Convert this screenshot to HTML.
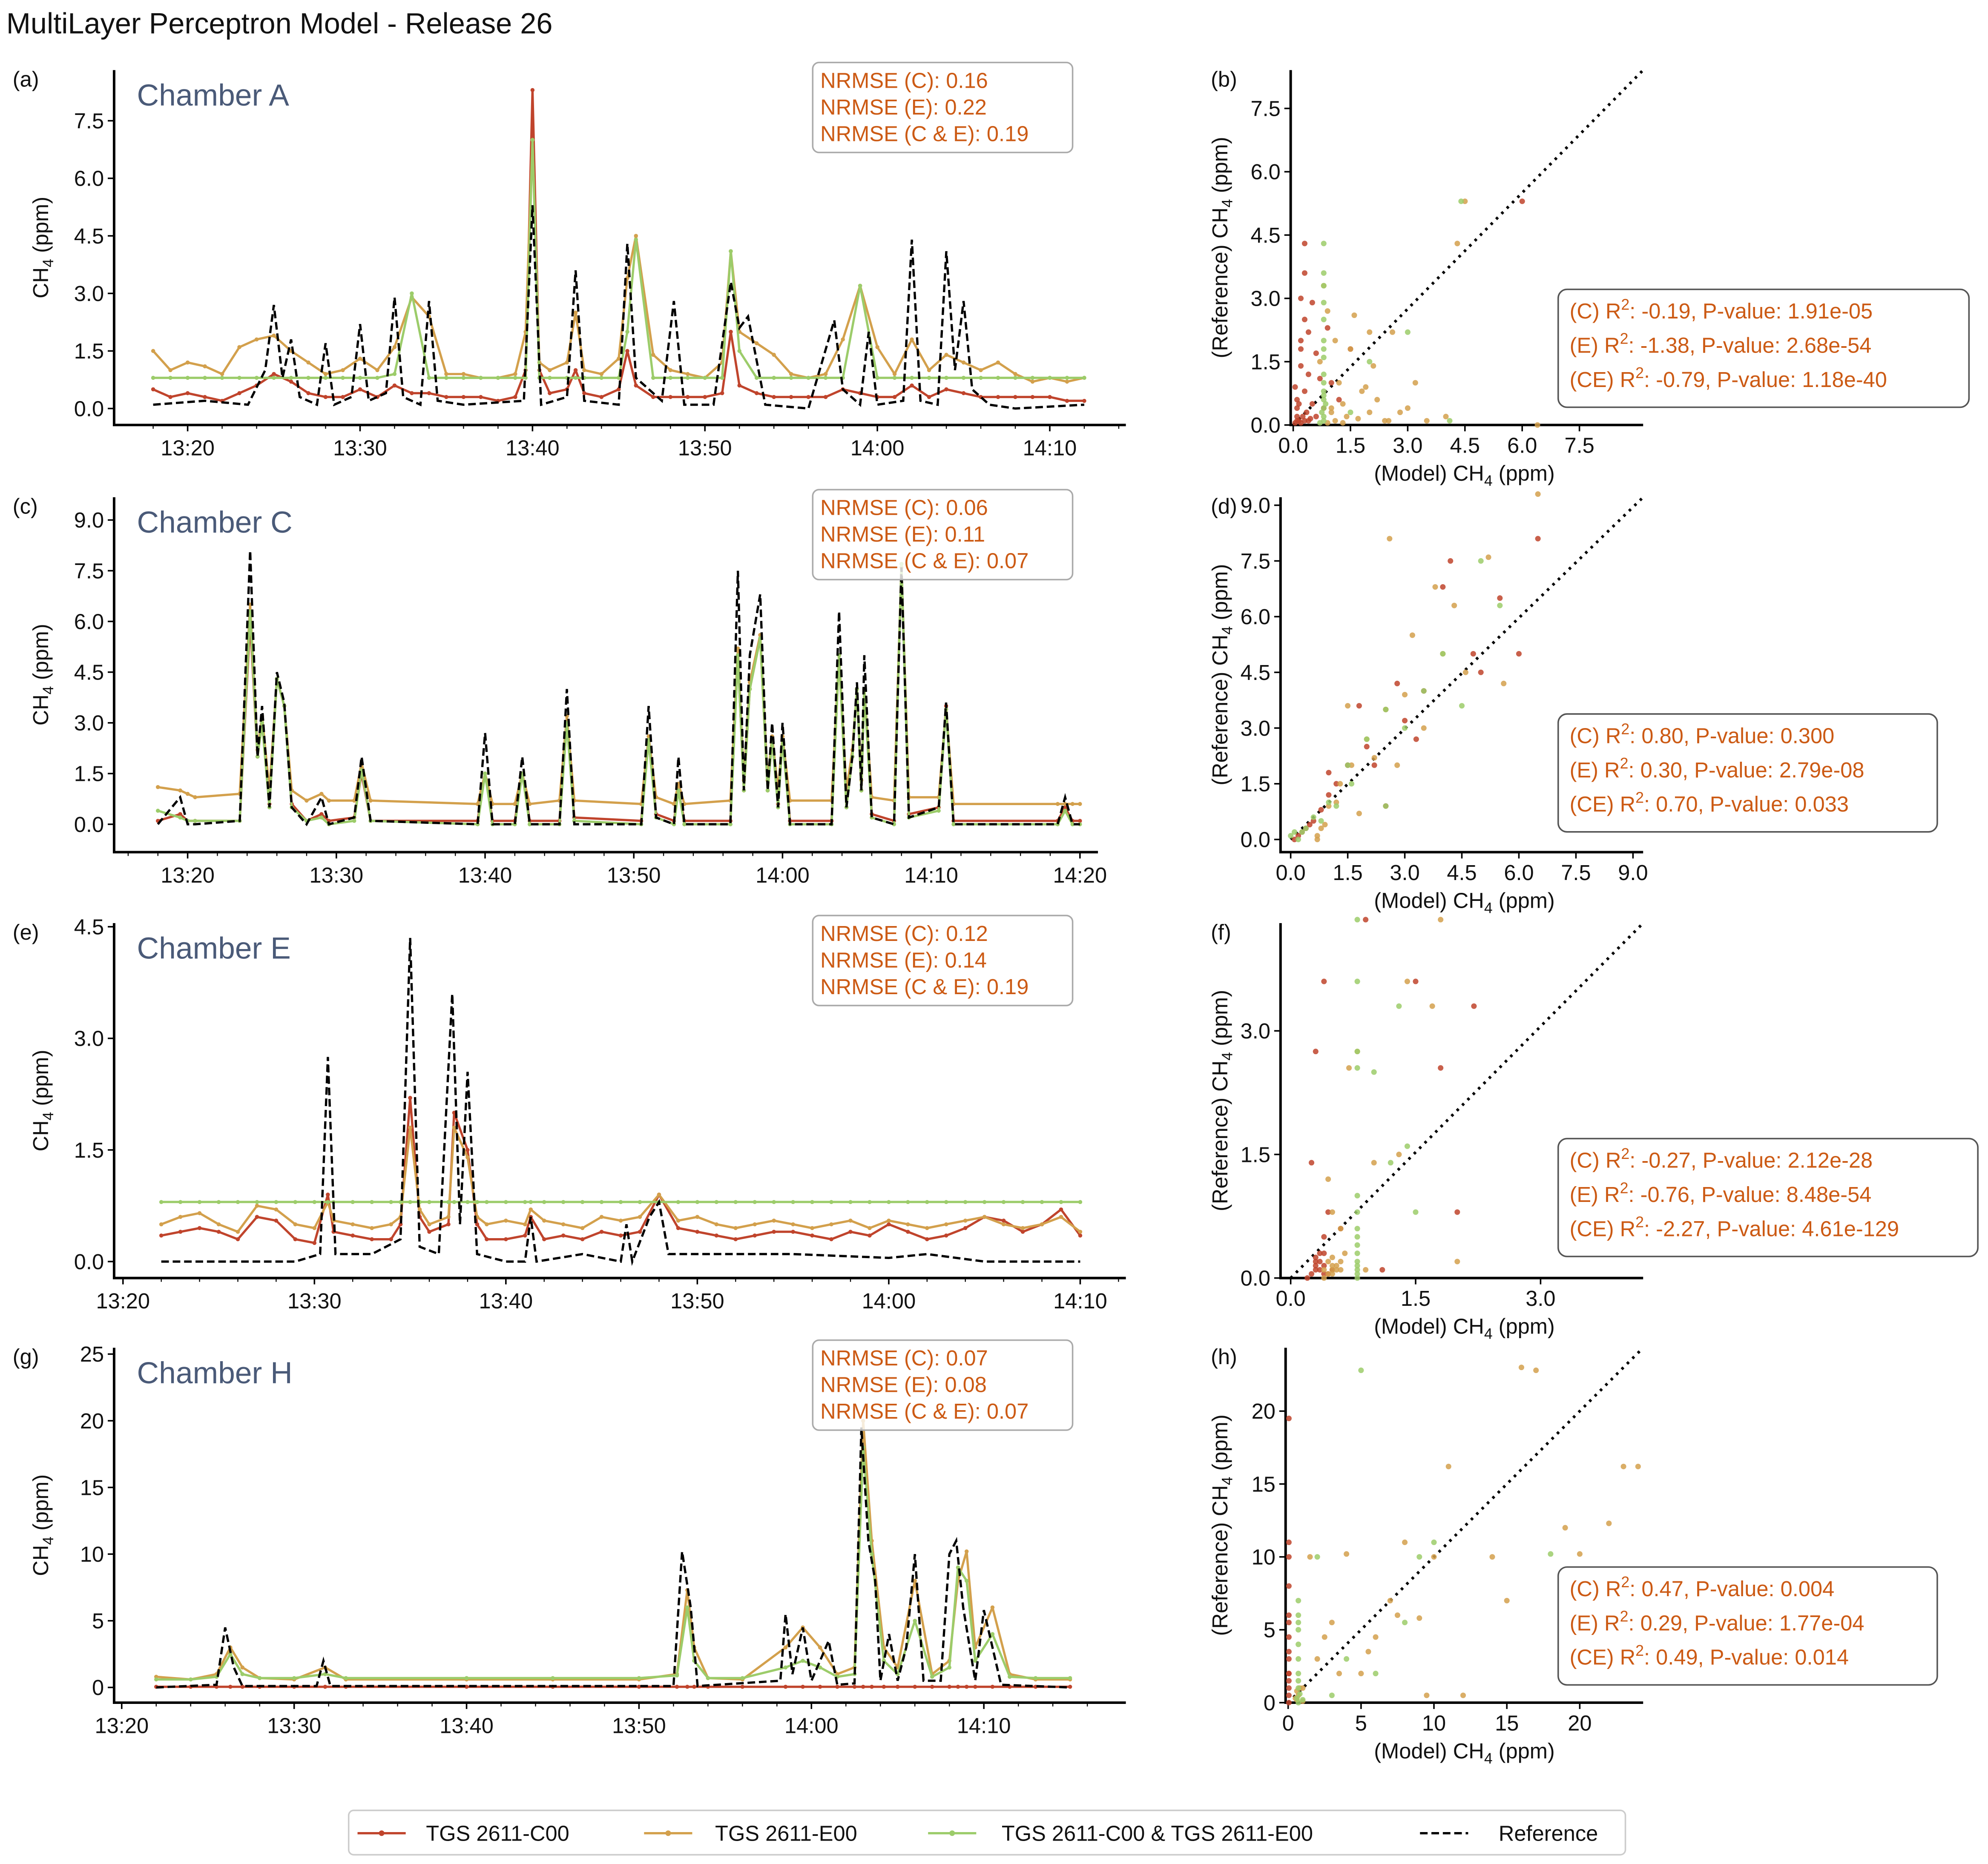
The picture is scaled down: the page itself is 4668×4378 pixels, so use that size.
<!DOCTYPE html>
<html><head><meta charset="utf-8"><style>
html,body{margin:0;padding:0;background:#fff}
svg{display:block}
text{font-family:"Liberation Sans","DejaVu Sans",sans-serif}
</style></head><body>
<svg id="fig" xmlns="http://www.w3.org/2000/svg" width="4668" height="4378" viewBox="0 0 1568 1470">
<rect width="1568" height="1470" fill="#fff"/>
<text x="5" y="26" font-size="23" fill="#111">MultiLayer Perceptron Model - Release 26</text>
</svg>
<script>
// ---------- DATA ----------
const timesA = [18,19,20,21,22,23,24,25,26,27,28,29,30,31,32,33,34,35,36,37,38,39,39.6,40,40.4,41,42,42.5,43,44,45,45.5,46,47,48,49,50,51,51.5,52,53,54,55,56,57,58,59,60,61,62,63,64,65,66,67,68,69,70,71,72];
const cValsA = [0.5,0.3,0.4,0.3,0.2,0.4,0.6,0.9,0.7,0.4,0.3,0.3,0.5,0.3,0.6,0.4,0.4,0.3,0.3,0.3,0.2,0.3,1.0,8.3,1.0,0.4,0.5,1.0,0.4,0.3,0.5,1.5,0.6,0.3,0.3,0.3,0.3,0.4,2.0,0.6,0.4,0.3,0.3,0.3,0.3,0.5,0.4,0.3,0.3,0.6,0.3,0.5,0.4,0.3,0.3,0.3,0.3,0.3,0.2,0.2];
const eValsA = [1.5,1.0,1.2,1.1,0.9,1.6,1.8,1.9,1.5,1.2,0.9,1.0,1.3,1.0,1.6,2.9,2.4,0.9,0.9,0.8,0.8,0.9,2.0,7.0,1.2,1.0,1.2,2.5,1.0,0.9,1.3,3.4,4.5,1.4,1.0,0.9,0.8,1.2,4.1,2.0,1.7,1.4,0.9,0.8,0.9,1.8,3.2,1.6,0.9,1.8,1.0,1.4,1.2,1.0,1.2,0.9,0.7,0.8,0.7,0.8];
const gValsA = [0.8,0.8,0.8,0.8,0.8,0.8,0.8,0.8,0.8,0.8,0.8,0.8,0.8,0.8,0.9,3.0,0.8,0.8,0.8,0.8,0.8,0.8,0.8,7.0,0.8,0.8,0.8,0.8,0.8,0.8,0.8,2.0,4.4,0.8,0.8,0.8,0.8,0.8,4.1,1.5,0.8,0.8,0.8,0.8,0.8,0.8,3.2,0.8,0.8,0.8,0.8,0.8,0.8,0.8,0.8,0.8,0.8,0.8,0.8,0.8];
const refTimesA = [18,21,23.5,24.5,25,25.5,26,26.5,27.5,28,28.5,29.5,30,30.5,31.5,32,32.5,33.5,34,34.5,36,39.5,40,40.5,42,42.5,43,45,45.5,46,47.5,48.2,48.8,50.5,51.5,52,52.5,53.5,56,57.5,58,59,59.5,60,61.5,62,62.5,63.5,64,64.5,65,65.5,66.5,68,72];
const refValsA = [0.1,0.2,0.1,1.0,2.7,0.8,1.8,0.3,0.1,1.7,0.1,0.3,2.2,0.2,0.4,2.9,0.3,0.1,2.8,0.2,0.1,0.2,5.3,0.1,0.3,3.6,0.2,0.1,4.3,0.8,0.2,2.8,0.1,0.1,3.3,2.1,2.4,0.1,0.0,2.3,0.5,0.1,2.0,0.1,0.2,4.4,0.2,0.1,4.1,1.0,2.8,0.5,0.1,0.0,0.1];

const timesC = [18,19.5,20,20.5,23.5,24.2,24.7,25,25.5,26,26.5,27,28,29,29.5,31.2,31.7,32.3,39.5,40,40.5,42,42.5,43,45,45.5,46,50.5,51,51.5,52.7,53,53.4,56.5,57,57.4,57.8,58.5,59,59.3,59.7,60,60.5,63.3,63.8,64.3,64.7,65,65.3,65.5,66,67.5,68,68.5,70.5,71,71.5,78.5,79,79.5,80];
const refValsC = [0,0.8,0,0,0.1,8.1,2,3.5,0.5,4.5,3.6,0.5,0,0.8,0,0.2,2.0,0.1,0,2.7,0,0,2.0,0,0,4.0,0,0,3.5,0.2,0,2.0,0,0,7.5,1.0,5.0,6.8,1.0,3.0,0.5,3.0,0,0,6.3,0.5,2.0,4.2,1.0,5.0,0.2,0,7.6,0.2,0.5,3.6,0,0,0.8,0,0];
const cValsC = [0.1,0.3,0.1,0.1,0.1,6.0,2,3.0,0.6,4.3,3.5,0.6,0.1,0.3,0.1,0.2,1.5,0.1,0.1,1.5,0.1,0.1,1.5,0.1,0.1,3.0,0.2,0.1,2.5,0.3,0.1,1.0,0.1,0.1,5.0,1.0,4.0,5.5,1.0,2.5,0.6,2.5,0.1,0.1,5.0,0.5,2.0,4.0,1.0,4.0,0.3,0.1,7.7,0.3,0.5,3.5,0.1,0.1,0.5,0.1,0.1];
const eValsC = [1.1,1.0,0.9,0.8,0.9,6.5,2.2,3.2,1.0,4.3,3.5,1.0,0.7,0.9,0.7,0.7,1.8,0.7,0.6,1.5,0.6,0.6,1.5,0.6,0.7,3.2,0.7,0.6,2.6,0.8,0.6,1.2,0.6,0.7,5.2,1.3,4.2,5.6,1.3,2.6,1.0,2.6,0.7,0.7,5.0,1.0,2.2,4.0,1.3,4.0,0.8,0.7,7.6,0.8,0.8,3.4,0.6,0.6,0.6,0.6,0.6];
const gValsC = [0.4,0.2,0.1,0.1,0.1,6.3,2,3.0,0.5,4.3,3.5,0.5,0.1,0.2,0.0,0.1,1.6,0.1,0.0,1.5,0.0,0.0,1.5,0.0,0.0,3.0,0.1,0.0,2.5,0.2,0.0,1.0,0.0,0.0,5.0,1.0,4.0,5.5,1.0,2.5,0.5,2.5,0.0,0.0,5.0,0.5,2.0,4.0,1.0,4.0,0.2,0.0,7.7,0.2,0.4,3.4,0.0,0.0,0.4,0.0,0.0];

const timesE = [22,23,24,25,26,27,28,29,30,30.7,31,32,33,34,34.5,35,35.5,36,37,37.3,38,38.5,39,40,41,41.3,42,43,44,45,46,47,48,49,50,51,52,53,54,55,56,57,58,59,60,61,62,63,64,65,66,67,68,69,70];
const cValsE = [0.35,0.4,0.45,0.4,0.3,0.6,0.55,0.3,0.25,0.9,0.4,0.35,0.3,0.3,0.5,2.2,0.6,0.4,0.5,2.0,1.5,0.5,0.3,0.3,0.35,0.6,0.3,0.35,0.3,0.4,0.35,0.4,0.9,0.45,0.4,0.35,0.3,0.35,0.4,0.4,0.35,0.3,0.4,0.35,0.5,0.4,0.3,0.35,0.45,0.6,0.55,0.4,0.5,0.7,0.35];
const eValsE = [0.5,0.6,0.65,0.5,0.4,0.75,0.7,0.5,0.45,0.8,0.55,0.5,0.45,0.5,0.6,1.8,0.7,0.5,0.6,1.8,1.4,0.6,0.5,0.55,0.5,0.7,0.55,0.5,0.45,0.6,0.55,0.6,0.9,0.55,0.6,0.5,0.45,0.5,0.55,0.5,0.45,0.5,0.55,0.45,0.55,0.5,0.45,0.5,0.55,0.6,0.5,0.45,0.5,0.6,0.4];
const gValsE = [0.8,0.8,0.8,0.8,0.8,0.8,0.8,0.8,0.8,0.8,0.8,0.8,0.8,0.8,0.8,0.8,0.8,0.8,0.8,0.8,0.8,0.8,0.8,0.8,0.8,0.8,0.8,0.8,0.8,0.8,0.8,0.8,0.8,0.8,0.8,0.8,0.8,0.8,0.8,0.8,0.8,0.8,0.8,0.8,0.8,0.8,0.8,0.8,0.8,0.8,0.8,0.8,0.8,0.8,0.8];
const refTimesE = [22,29,30.3,30.7,31.1,33,34.5,35,35.5,36.5,37.2,37.6,38,38.5,40,41,41.3,41.6,44,46,46.3,46.6,47.5,48,48.5,50,55,60,62,65,70];
const refValsE = [0,0,0.1,2.75,0.1,0.1,0.3,4.35,0.2,0.1,3.6,0.5,2.55,0.1,0,0,0.6,0,0.1,0,0.5,0,0.6,0.8,0.1,0.1,0.1,0.05,0.1,0,0];

const timesH = [22,24,25.5,26.3,27,28,30,31.8,33,40,45,50,52.2,52.8,53.2,54,56,58.5,59.5,60.5,61.5,62.5,63,63.5,64.2,65,66,67,68,68.5,69,69.5,70.5,71.5,73,75];
const cValsH = [0.05,0.05,0.05,0.05,0.05,0.05,0.05,0.05,0.05,0.05,0.05,0.05,0.05,0.05,0.05,0.05,0.05,0.05,0.05,0.05,0.05,0.05,0.05,0.05,0.05,0.05,0.05,0.05,0.05,0.05,0.05,0.05,0.05,0.05,0.05,0.05];
const eValsH = [0.8,0.6,1.0,3.0,1.5,0.7,0.6,1.5,0.6,0.6,0.6,0.6,1.0,7.3,3.0,0.7,0.6,3.0,4.5,3.0,1.0,1.5,20,11,3,1.5,8,1.0,2.0,8,10.2,3,6,1.0,0.6,0.6];
const gValsH = [0.6,0.6,0.8,2.5,1.0,0.7,0.7,1.0,0.7,0.7,0.7,0.7,0.9,6.0,2.0,0.7,0.7,1.5,2.0,1.5,0.8,1.0,18,10,2,1.0,5,0.8,1.5,9,8,2,4,0.8,0.7,0.7];
const refTimesH = [22,25.5,26,26.5,27,31.3,31.7,32.1,52,52.5,53,53.4,58.2,58.5,58.9,59.5,60,60.5,61,61.5,62.5,62.9,63.3,63.7,64,64.5,65,65.5,66,66.5,67.5,68,68.4,68.8,69.5,70,70.5,71,75];
const refValsH = [0,0.2,4.5,1.5,0.1,0.1,2.0,0.1,0.1,10.2,6,0.1,0.5,5.5,1.0,4.5,0.5,2.0,3.5,0.2,0.3,19.5,11,8,0.5,4.0,0.5,3.0,10,0.5,0.5,10.0,11,6,0.5,5.8,3,0.2,0];

const timeTickLabels = ["13:20","13:30","13:40","13:50","14:00","14:10","14:20"];
const timeTickMinutes = [20,30,40,50,60,70,80];

// scatter data (model x, reference y)
const scBcx = [0.1,0.2,0.3,0.4,0.5,0.2,0.3,0.6,0.1,0.4,0.8,0.2,0.5,0.3,1.0,0.6,0.2,0.9,1.2,0.4,6.0,0.3,0.7,0.1,1.5,0.05,0.15,0.25,0.35,0.1,0.2,0.3,0.15,0.45,0.05];
const scBcy = [0.2,1.8,2.5,1.2,0.5,3.0,0.8,1.7,0.1,2.2,0.4,1.4,2.9,4.3,1.0,0.2,2.0,2.3,0.6,0.1,5.3,3.6,1.1,0.6,1.8,0.05,0.1,0.2,0.3,0.4,0.05,0.1,0.5,0.15,0.9];
const scBex = [1.0,1.5,2.0,2.5,3.0,0.9,1.2,1.8,2.2,3.5,4.5,4.3,1.6,2.8,0.8,3.2,2.1,1.3,4.0,2.6,6.4,1.1,0.7,1.9,2.4,0.9,1.1,1.4,1.7,2.0,1.0,1.3];
const scBey = [0.3,1.8,2.2,0.1,0.4,2.7,1.0,0.8,0.6,0.1,5.3,4.3,2.6,0.3,3.3,1.0,1.4,0.5,0.2,2.2,0.0,2.0,1.5,0.9,0.1,0.05,0.1,0.2,0.15,0.3,0.4,0.05];
const scBgx = [0.8,0.8,0.8,0.8,0.8,0.8,0.8,0.8,0.8,0.8,0.8,0.8,1.5,3.0,4.1,2.0,4.4,0.8,0.8,0.8,0.7,0.75,0.85,0.8];
const scBgy = [0.1,0.4,0.8,1.2,1.6,2.0,2.5,2.9,3.3,3.6,4.3,0.2,0.3,2.2,0.1,1.5,5.3,1.8,0.6,1.0,0.05,0.3,0.5,0.7];

const scDcx = [0.1,0.2,0.4,0.6,1.0,1.5,2.0,2.5,3.0,3.5,4.0,5.0,5.5,6.0,6.5,0.3,0.8,1.2,1.8,2.2,2.8,4.2,3.3,1.0,0.5,4.8,2.5];
const scDcy = [0.0,0.1,0.3,0.5,1.2,2.0,2.5,3.5,3.2,4.0,6.8,4.5,6.5,5.0,8.1,0.2,0.8,1.5,3.6,2.0,4.2,7.5,2.7,1.8,0.4,5.0,0.9];
const scDex = [0.7,0.8,1.0,1.3,1.6,2.0,2.5,3.0,3.5,4.0,4.3,5.2,5.6,6.5,2.6,3.2,1.5,1.8,2.2,0.9,3.8,1.2,4.6,2.8,0.7];
const scDey = [0.0,0.3,0.9,1.5,2.0,2.7,3.5,3.9,3.0,5.0,6.3,7.6,4.2,9.3,8.1,5.5,3.6,0.7,2.2,0.4,6.8,1.0,4.5,2.0,0.1];
const scDgx = [0.0,0.1,0.2,0.4,0.6,1.0,1.5,2.0,2.5,3.0,4.0,5.0,5.5,2.5,1.6,0.8,3.5,4.5,1.2,0.3];
const scDgy = [0.1,0.2,0.0,0.3,0.6,1.0,2.0,2.7,3.5,3.0,5.0,7.5,6.3,0.9,1.5,0.5,4.0,3.6,0.9,0.2];

const scFcx = [0.2,0.3,0.35,0.4,0.5,0.3,0.25,0.9,1.5,2.2,1.8,0.6,0.4,0.35,0.45,1.1,0.5,0.3,2.0,0.4,0.25,0.3,0.35,0.4,0.45,0.3,0.4];
const scFcy = [0.0,0.1,0.2,0.05,0.1,2.75,1.4,4.35,3.6,3.3,2.55,0.6,0.5,0.3,0.8,0.1,0.1,0.15,0.8,3.6,0.05,0.2,0.1,0.3,0.05,0.25,0.15];
const scFex = [0.4,0.5,0.6,0.45,0.55,0.8,1.8,1.4,1.7,0.7,0.6,0.5,1.3,2.0,0.9,1.0,0.65,0.5,0.45,0.5,0.55,0.6,0.45,0.5,0.4];
const scFey = [0.0,0.1,0.2,0.05,0.1,2.75,4.35,3.6,3.3,2.55,0.6,0.8,1.5,0.2,0.1,1.4,0.3,0.15,1.2,0.05,0.15,0.1,0.2,0.25,0.1];
const scFgx = [0.8,0.8,0.8,0.8,0.8,0.8,0.8,0.8,0.8,0.8,0.8,0.8,1.2,1.4,1.0,1.3,1.5,0.8,0.8,0.8];
const scFgy = [0.0,0.1,0.2,0.3,0.5,0.6,0.8,1.0,2.75,4.35,3.6,2.55,1.4,1.6,2.5,3.3,0.8,0.05,0.15,0.4];

const scHcx = [0.05,0.05,0.05,0.05,0.05,0.05,0.05,0.05,0.05,0.05,0.05,0.05,0.05,0.05,0.05];
const scHcy = [0,1,2,3,4.5,5.5,6,8,10,11,19.5,3.5,2,0.5,1.5];
const scHex = [0.6,1,2,3,4,5,6,7,8,9,10,11,12,14,15,16,17,19,20,22,23,24,1.5,2.5,3.5,5.5,7.5,9.5,0.5,0.7,0.8,1.0,0.6];
const scHey = [0.2,1,3,5.5,10.2,2,4.5,7,11,5.8,10,16.2,0.5,10,7,23,22.8,12,10.2,12.3,16.2,16.2,10,4.5,2,3.5,6,0.5,0.3,0.5,1.0,0.1,0.8];
const scHgx = [0.7,0.7,0.7,0.7,0.7,0.7,0.7,0.7,0.7,1.0,2.0,5.0,6.0,8.0,9.0,18,10,4,3,0.6,0.8,0.7];
const scHgy = [0,1,2,3,4,5,5.5,6,7,0.2,10,22.8,2,5.5,10,10.2,11,3,0.5,0.3,0.6,1.5];

// ---------- RENDER ----------
const svg = document.getElementById('fig');
const NS = 'http://www.w3.org/2000/svg';
function mk(tag, attrs, parent){
  const e = document.createElementNS(NS, tag);
  for (const k in attrs) e.setAttribute(k, attrs[k]);
  (parent||svg).appendChild(e);
  return e;
}
const RED='#c0442c', ORG='#d3a04c', GRN='#9ccc6a', ANN='#cc5a14';

function ch4Label(parent, x, y, pre, post, rot, fs){
  const t = mk('text', {x:x, y:y, 'font-size':fs, fill:'#111', 'text-anchor':'middle', transform: rot?`rotate(-90 ${x} ${y})`:''}, parent);
  t.appendChild(document.createTextNode(pre+'CH'));
  const s = mk('tspan', {'font-size':fs*0.7, dy:4}, t); s.textContent='4';
  const s2 = mk('tspan', {dy:-4}, t); s2.textContent=post;
  return t;
}

function timePanel(cfg){
  const g = mk('g', {});
  
  
  const tx = m => cfg.x0t + (m-20)*cfg.pxMin;
  const ty = v => cfg.y0 - v*cfg.pxUnit;
  const sp = mk('path', {d:`M${cfg.xl},${cfg.yt} V${cfg.yb} H${cfg.xr}`, stroke:'#000', 'stroke-width':2, fill:'none'}, g);
  
  
  cfg.yticks.forEach((v,i)=>{
    const y = ty(v);
    mk('line',{x1:cfg.xl-5,x2:cfg.xl,y1:y,y2:y,stroke:'#000','stroke-width':1.2},g);
    const t = mk('text',{x:cfg.xl-8,y:y+6,'font-size':17,'text-anchor':'end',fill:'#111'},g);
    t.textContent = cfg.ylabels[i];
    
    
  });
  timeTickMinutes.forEach((m,i)=>{
    if (m < cfg.tmin || m > cfg.tmax) return;
    const x = tx(m);
    mk('line',{x1:x,x2:x,y1:cfg.yb,y2:cfg.yb+5,stroke:'#000','stroke-width':1.2},g);
    const t = mk('text',{x:x,y:cfg.yb+24,'font-size':17,'text-anchor':'middle',fill:'#111'},g);
    t.textContent = timeTickLabels[i];
    
    
  });
  for (let m = Math.ceil(cfg.tmin/2)*2; m <= cfg.tmax; m+=2){
    if (m%10===0) continue;
    const x = tx(m);
    if (x > cfg.xr) continue;
    mk('line',{x1:x,x2:x,y1:cfg.yb,y2:cfg.yb+3,stroke:'#000','stroke-width':0.8},g);
  }
  const yl = ch4Label(g, 38, (cfg.yt+cfg.yb)/2, '', ' (ppm)', true, 17);
  
  
  const series = [[cfg.c, RED,'series-c00'],[cfg.e, ORG,'series-e00'],[cfg.g, GRN,'series-c00-e00']];
  series.forEach(([vals,col,nm])=>{
    const n = Math.min(vals.length, cfg.t.length);
    let d='';
    for (let i=0;i<n;i++) d += (i?'L':'M')+tx(cfg.t[i]).toFixed(1)+','+ty(vals[i]).toFixed(1);
    const p = mk('path',{d:d,stroke:col,'stroke-width':1.8,fill:'none','stroke-linejoin':'round'},g);
    
    
    for (let i=0;i<n;i++){
      const c = mk('circle',{cx:tx(cfg.t[i]),cy:ty(vals[i]),r:1.6,fill:col},g);
      
      
    }
  });
  const n = Math.min(cfg.rt.length, cfg.rv.length);
  let d='';
  for (let i=0;i<n;i++) d += (i?'L':'M')+tx(cfg.rt[i]).toFixed(1)+','+ty(cfg.rv[i]).toFixed(1);
  const rp = mk('path',{d:d,stroke:'#000','stroke-width':1.8,fill:'none','stroke-dasharray':'6,3'},g);
  
  
  const lt = mk('text',{x:10,y:cfg.yt+13,'font-size':17,fill:'#111'},g);
  lt.textContent = cfg.letter;
  
  
  const cl = mk('text',{x:108,y:cfg.yt+28,'font-size':24,fill:'#4a5a78'},g);
  cl.textContent = cfg.chamber;
  
  
  const bx = mk('rect',{x:641,y:cfg.yt-6,width:205,height:71,rx:5,fill:'#fff','fill-opacity':0.8,stroke:'#aaa','stroke-width':1.2},g);
  
  
  cfg.nrmse.forEach((s,i)=>{
    const t = mk('text',{x:647,y:cfg.yt+14+i*21,'font-size':17,fill:ANN},g);
    t.textContent = s;
    
    
  });
}

timePanel({name:'panel-a-chamber-a', letter:'(a)', chamber:'Chamber A', xl:90, xr:888, yt:55, yb:335,
  x0t:148, pxMin:13.6, y0:322, pxUnit:30.27, tmin:17, tmax:74,
  yticks:[0,1.5,3,4.5,6,7.5], ylabels:['0.0','1.5','3.0','4.5','6.0','7.5'],
  t:timesA, c:cValsA, e:eValsA, g:gValsA, rt:refTimesA, rv:refValsA,
  nrmse:['NRMSE (C): 0.16','NRMSE (E): 0.22','NRMSE (C & E): 0.19']});
timePanel({name:'panel-c-chamber-c', letter:'(c)', chamber:'Chamber C', xl:90, xr:866, yt:392, yb:672,
  x0t:148, pxMin:11.73, y0:650, pxUnit:26.67, tmin:16, tmax:82,
  yticks:[0,1.5,3,4.5,6,7.5,9], ylabels:['0.0','1.5','3.0','4.5','6.0','7.5','9.0'],
  t:timesC, c:cValsC, e:eValsC, g:gValsC, rt:timesC, rv:refValsC,
  nrmse:['NRMSE (C): 0.06','NRMSE (E): 0.11','NRMSE (C & E): 0.07']});
timePanel({name:'panel-e-chamber-e', letter:'(e)', chamber:'Chamber E', xl:90, xr:888, yt:728, yb:1008,
  x0t:97, pxMin:15.1, y0:995, pxUnit:58.7, tmin:20, tmax:72,
  yticks:[0,1.5,3,4.5], ylabels:['0.0','1.5','3.0','4.5'],
  t:timesE, c:cValsE, e:eValsE, g:gValsE, rt:refTimesE, rv:refValsE,
  nrmse:['NRMSE (C): 0.12','NRMSE (E): 0.14','NRMSE (C & E): 0.19']});
timePanel({name:'panel-g-chamber-h', letter:'(g)', chamber:'Chamber H', xl:90, xr:888, yt:1063, yb:1343,
  x0t:96, pxMin:13.6, y0:1331, pxUnit:10.52, tmin:20, tmax:76,
  yticks:[0,5,10,15,20,25], ylabels:['0','5','10','15','20','25'],
  t:timesH, c:cValsH, e:eValsH, g:gValsH, rt:refTimesH, rv:refValsH,
  nrmse:['NRMSE (C): 0.07','NRMSE (E): 0.08','NRMSE (C & E): 0.07']});

function scatterPanel(cfg){
  const g = mk('g', {});
  
  
  const sx = v => cfg.x0 + v*cfg.kx;
  const sy = v => cfg.y0 - v*cfg.ky;
  const sp = mk('path', {d:`M${cfg.xl},${cfg.yt} V${cfg.yb} H1296`, stroke:'#000', 'stroke-width':2, fill:'none'}, g);
  
  
  cfg.ticks.forEach((v,i)=>{
    const x = sx(v), y = sy(v);
    if (x <= 1297){
      mk('line',{x1:x,x2:x,y1:cfg.yb,y2:cfg.yb+5,stroke:'#000','stroke-width':1.2},g);
      const t = mk('text',{x:x,y:cfg.yb+22,'font-size':17,'text-anchor':'middle',fill:'#111'},g);
      t.textContent = cfg.labels[i];
      
      
    }
    if (y >= cfg.yt-1){
      mk('line',{x1:cfg.xl-5,x2:cfg.xl,y1:y,y2:y,stroke:'#000','stroke-width':1.2},g);
      const t = mk('text',{x:cfg.xl-8,y:y+6,'font-size':17,'text-anchor':'end',fill:'#111'},g);
      t.textContent = cfg.labels[i];
      
      
    }
  });
  const dl = mk('line',{x1:sx(0),y1:sy(0),x2:1296,y2:cfg.yt,stroke:'#000','stroke-width':2.2,'stroke-dasharray':'2,4'},g);
  
  
  [[cfg.cx,cfg.cy,RED,'scatter-c00'],[cfg.ex,cfg.ey,ORG,'scatter-e00'],[cfg.gx,cfg.gy,GRN,'scatter-c00-e00']].forEach(([xs,ys,col,nm])=>{
    const n = Math.min(xs.length, ys.length);
    for (let i=0;i<n;i++){
      const c = mk('circle',{cx:sx(xs[i]),cy:sy(ys[i]),r:2.2,fill:col,'fill-opacity':0.85},g);
      
      
    }
  });
  const lt = mk('text',{x:955,y:cfg.yt+13,'font-size':17,fill:'#111'},g);
  lt.textContent = cfg.letter;
  
  
  const yl = ch4Label(g, 968, (cfg.yt+cfg.yb)/2, '(Reference) ', ' (ppm)', true, 17);
  
  
  const xlb = ch4Label(g, 1155, cfg.yb+44, '(Model) ', ' (ppm)', false, 17);
  
  
  const bx = mk('rect',{x:1229,y:cfg.by,width:cfg.bw,height:93,rx:7,fill:'#fff','fill-opacity':0.85,stroke:'#555','stroke-width':1.2},g);
  
  
  cfg.stats.forEach((s,i)=>{
    const t = mk('text',{x:1238,y:cfg.by+23+i*27,'font-size':17,fill:ANN},g);
    t.appendChild(document.createTextNode(s[0]+' R'));
    const sup = mk('tspan',{'font-size':12,dy:-7},t); sup.textContent='2';
    const rest = mk('tspan',{dy:7},t); rest.textContent=': '+s[1];
    
    
  });
}

scatterPanel({name:'panel-b-scatter-a', letter:'(b)', xl:1018, yt:55, yb:335, x0:1020, kx:30.1, y0:335, ky:33.3,
  ticks:[0,1.5,3,4.5,6,7.5], labels:['0.0','1.5','3.0','4.5','6.0','7.5'],
  cx:scBcx, cy:scBcy, ex:scBex, ey:scBey, gx:scBgx, gy:scBgy, by:228, bw:324,
  stats:[['(C)','-0.19, P-value: 1.91e-05'],['(E)','-1.38, P-value: 2.68e-54'],['(CE)','-0.79, P-value: 1.18e-40']]});
scatterPanel({name:'panel-d-scatter-c', letter:'(d)', xl:1010, yt:392, yb:672, x0:1018, kx:30, y0:662, ky:29.3,
  ticks:[0,1.5,3,4.5,6,7.5,9], labels:['0.0','1.5','3.0','4.5','6.0','7.5','9.0'],
  cx:scDcx, cy:scDcy, ex:scDex, ey:scDey, gx:scDgx, gy:scDgy, by:563, bw:299,
  stats:[['(C)','0.80, P-value: 0.300'],['(E)','0.30, P-value: 2.79e-08'],['(CE)','0.70, P-value: 0.033']]});
scatterPanel({name:'panel-f-scatter-e', letter:'(f)', xl:1010, yt:728, yb:1008, x0:1018, kx:65.7, y0:1008, ky:65,
  ticks:[0,1.5,3], labels:['0.0','1.5','3.0'],
  cx:scFcx, cy:scFcy, ex:scFex, ey:scFey, gx:scFgx, gy:scFgy, by:898, bw:331,
  stats:[['(C)','-0.27, P-value: 2.12e-28'],['(E)','-0.76, P-value: 8.48e-54'],['(CE)','-2.27, P-value: 4.61e-129']]});
scatterPanel({name:'panel-h-scatter-h', letter:'(h)', xl:1014, yt:1063, yb:1343, x0:1016, kx:11.5, y0:1343, ky:11.5,
  ticks:[0,5,10,15,20], labels:['0','5','10','15','20'],
  cx:scHcx, cy:scHcy, ex:scHex, ey:scHey, gx:scHgx, gy:scHgy, by:1236, bw:299,
  stats:[['(C)','0.47, P-value: 0.004'],['(E)','0.29, P-value: 1.77e-04'],['(CE)','0.49, P-value: 0.014']]});

// legend
const lg = mk('g',{});


mk('rect',{x:275,y:1428,width:1007,height:35,rx:4,fill:'#fff',stroke:'#ccc','stroke-width':1.2},lg);
[[282,336,RED,'TGS 2611-C00',false],[508,564,ORG,'TGS 2611-E00',false],[732,790,GRN,'TGS 2611-C00 & TGS 2611-E00',false],[1120,1182,'#000','Reference',true]].forEach(([lx,tx,col,lab,dash])=>{
  const e = mk('g',{},lg);
  
  
  mk('line',{x1:lx,x2:lx+38,y1:1446,y2:1446,stroke:col,'stroke-width':1.8,'stroke-dasharray':dash?'6,3':'none'},e);
  if(!dash) mk('circle',{cx:lx+19,cy:1446,r:2.2,fill:col},e);
  const t = mk('text',{x:tx,y:1452,'font-size':17,fill:'#111'},e);
  t.textContent = lab;
});
</script>
</body></html>
